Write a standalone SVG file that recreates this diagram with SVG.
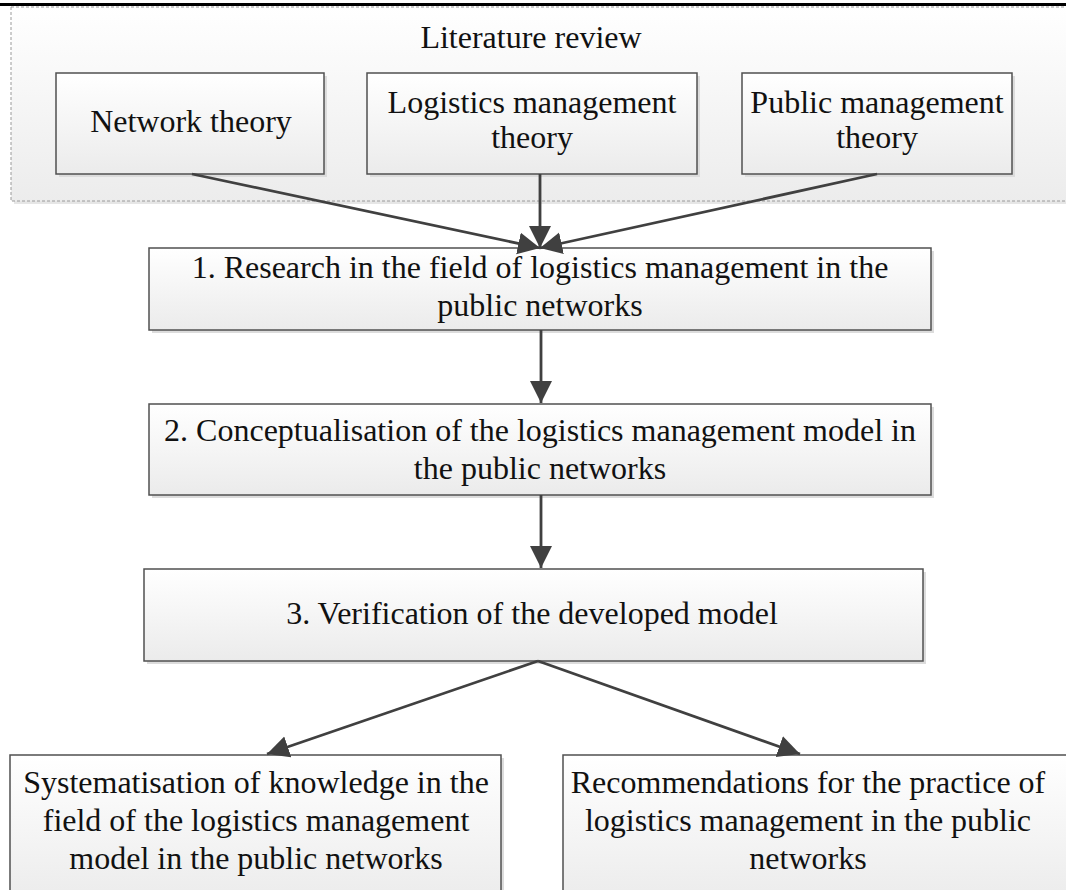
<svg xmlns="http://www.w3.org/2000/svg" width="1066" height="890" viewBox="0 0 1066 890">
<defs>
<linearGradient id="gBox" x1="0" y1="0" x2="0" y2="1">
<stop offset="0" stop-color="#ffffff"/>
<stop offset="1" stop-color="#ebebeb"/>
</linearGradient>
<linearGradient id="gCont" x1="0" y1="0" x2="0" y2="1">
<stop offset="0" stop-color="#ffffff"/>
<stop offset="1" stop-color="#ececec"/>
</linearGradient>
<marker id="arr" markerUnits="userSpaceOnUse" markerWidth="24" markerHeight="24" refX="22" refY="11" orient="auto">
<path d="M0,0 L22,11 L0,22 Z" fill="#404040"/>
</marker>
</defs>
<style>
.box{fill:url(#gBox);stroke:#505050;stroke-width:1.5}
.sh{fill:#dcdcdc}
.t{font-family:"Liberation Serif","Times New Roman",serif;font-size:32px;fill:#111;text-anchor:middle}
.c{stroke:#404040;stroke-width:2.8;fill:none;marker-end:url(#arr)}
</style>
<rect width="1066" height="890" fill="#ffffff"/>
<line x1="0" y1="4.5" x2="1066" y2="4.5" stroke="#000" stroke-width="3"/>
<g id="literature-review">
<rect x="14" y="10" width="1070" height="194" fill="#e6e6e6"/>
<rect x="11" y="7" width="1070" height="194" fill="url(#gCont)" stroke="#9a9a9a" stroke-width="1" stroke-dasharray="3,2"/>
<text class="t" x="531" y="48">Literature review</text>
</g>
<g id="network-theory">
<rect class="sh" x="59" y="76" width="268" height="101"/>
<rect class="box" x="56" y="73" width="268" height="101"/>
<text class="t" x="191" y="132">Network theory</text>
</g>
<g id="logistics-theory">
<rect class="sh" x="370" y="76" width="330" height="101"/>
<rect class="box" x="367" y="73" width="330" height="101"/>
<text class="t" x="532" y="113">Logistics management</text>
<text class="t" x="532" y="148">theory</text>
</g>
<g id="public-theory">
<rect class="sh" x="745" y="76" width="270" height="101"/>
<rect class="box" x="742" y="73" width="270" height="101"/>
<text class="t" x="877" y="113">Public management</text>
<text class="t" x="877" y="148">theory</text>
</g>
<g id="step1">
<rect class="sh" x="152" y="251" width="782" height="82"/>
<rect class="box" x="149" y="248" width="782" height="82"/>
<text class="t" x="540" y="278">1. Research in the field of logistics management in the</text>
<text class="t" x="540" y="316">public networks</text>
</g>
<g id="step2">
<rect class="sh" x="152" y="407" width="782" height="91"/>
<rect class="box" x="149" y="404" width="782" height="91"/>
<text class="t" x="540" y="441">2. Conceptualisation of the logistics management model in</text>
<text class="t" x="540" y="479">the public networks</text>
</g>
<g id="step3">
<rect class="sh" x="147" y="572" width="779" height="92"/>
<rect class="box" x="144" y="569" width="779" height="92"/>
<text class="t" x="532" y="624">3. Verification of the developed model</text>
</g>
<g id="systematisation">
<rect class="sh" x="13" y="758" width="491" height="150"/>
<rect class="box" x="10" y="755" width="491" height="150"/>
<text class="t" x="256" y="793">Systematisation of knowledge in the</text>
<text class="t" x="256" y="831">field of the logistics management</text>
<text class="t" x="256" y="869">model in the public networks</text>
</g>
<g id="recommendations">
<rect class="sh" x="566" y="758" width="520" height="150"/>
<rect class="box" x="563" y="755" width="520" height="150"/>
<text class="t" x="808" y="793">Recommendations for the practice of</text>
<text class="t" x="808" y="831">logistics management in the public</text>
<text class="t" x="808" y="869">networks</text>
</g>
<g id="connectors">
<line class="c" x1="192" y1="174" x2="540" y2="248"/>
<line class="c" x1="540" y1="174" x2="540" y2="248"/>
<line class="c" x1="877" y1="174" x2="540" y2="248"/>
<line class="c" x1="541" y1="330" x2="541" y2="403"/>
<line class="c" x1="541" y1="495" x2="541" y2="568"/>
<line class="c" x1="538" y1="661" x2="267" y2="754"/>
<line class="c" x1="538" y1="661" x2="800" y2="754"/>
</g>
</svg>
